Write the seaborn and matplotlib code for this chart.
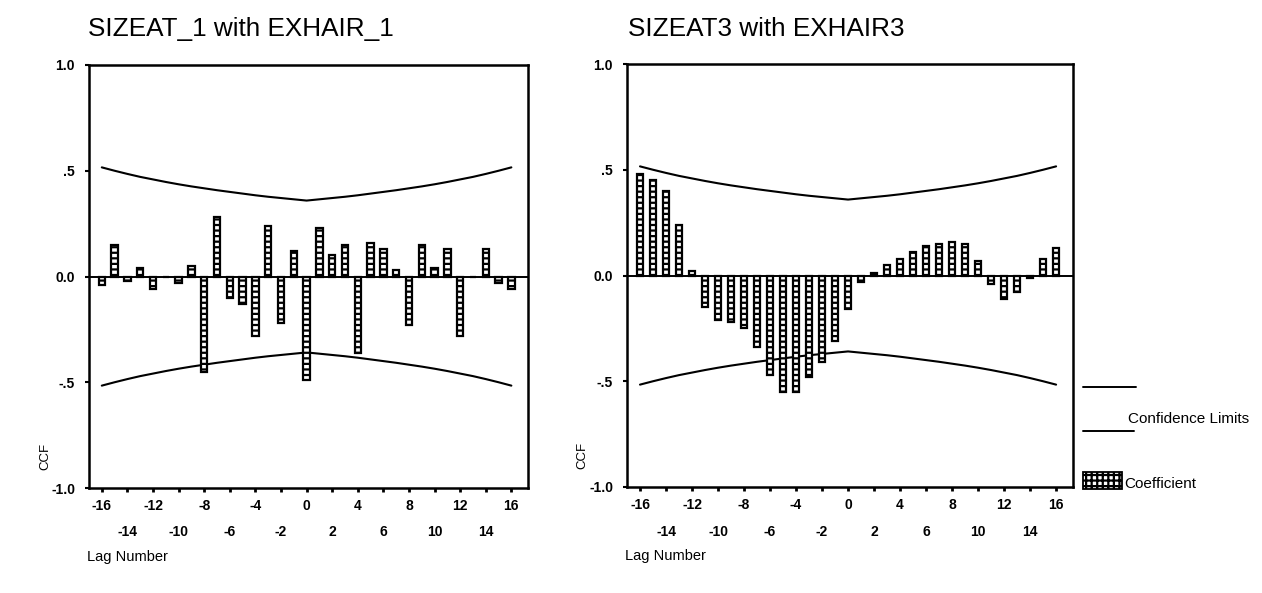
import matplotlib
matplotlib.use("Agg")
import matplotlib.pyplot as plt
import pandas as pd
import seaborn as sns
from matplotlib.lines import Line2D
from matplotlib.patches import Rectangle

# Cross-correlation coefficients by lag
lags = list(range(-16, 17))
ccf_sizeat1_exhair1 = [
    -0.04, 0.15, -0.02, 0.04, -0.06, 0.00, -0.03, 0.05, -0.45, 0.28, -0.10,
    -0.13, -0.28, 0.24, -0.22, 0.12, -0.49, 0.23, 0.10, 0.15, -0.36, 0.16,
    0.13, 0.03, -0.23, 0.15, 0.04, 0.13, -0.28, 0.00, 0.13, -0.03, -0.06,
]
ccf_sizeat3_exhair3 = [
    0.48, 0.45, 0.40, 0.24, 0.02, -0.15, -0.21, -0.22, -0.25, -0.34, -0.47,
    -0.55, -0.55, -0.48, -0.41, -0.31, -0.16, -0.03, 0.01, 0.05, 0.08, 0.11,
    0.14, 0.15, 0.16, 0.15, 0.07, -0.04, -0.11, -0.08, -0.01, 0.08, 0.13,
]
# Upper confidence limit per lag (lower limit is its negative)
conf_limit = [
    0.516, 0.500, 0.485, 0.471, 0.459, 0.447, 0.436, 0.426, 0.417, 0.408,
    0.400, 0.392, 0.384, 0.377, 0.371, 0.365, 0.359, 0.365, 0.371, 0.377,
    0.384, 0.392, 0.400, 0.408, 0.417, 0.426, 0.436, 0.447, 0.459, 0.471,
    0.485, 0.500, 0.516,
]
titles = ["SIZEAT_1 with EXHAIR_1", "SIZEAT3 with EXHAIR3"]
ytick_values = [1.0, 0.5, 0.0, -0.5, -1.0]
ytick_labels = ["1.0", ".5", "0.0", "-.5", "-1.0"]
xtick_row1 = [-16, -12, -8, -4, 0, 4, 8, 12, 16]
xtick_row2 = [-14, -10, -6, -2, 2, 6, 10, 14]

sns.set_theme(style="white")
plt.rcParams["font.family"] = ["Liberation Sans", "DejaVu Sans"]
plt.rcParams["text.color"] = "black"
plt.rcParams["hatch.linewidth"] = 1.6
plt.rcParams["hatch.color"] = "black"

W, H = 1262, 593
fig = plt.figure(figsize=(W / 100, H / 100), dpi=100)
fig.patch.set_facecolor("white")


def box(x0, y0, x1, y1):
    return [x0 / W, 1 - y1 / H, (x1 - x0) / W, (y1 - y0) / H]


ax1 = fig.add_axes(box(89, 65, 528, 488))
ax2 = fig.add_axes(box(627, 64, 1073, 487))

upper = conf_limit
lower = [-v for v in conf_limit]

for ax, values in [(ax1, ccf_sizeat1_exhair1), (ax2, ccf_sizeat3_exhair3)]:
    df = pd.DataFrame({"lag": lags, "ccf": values})
    sns.barplot(data=df, x="lag", y="ccf", native_scale=True, width=0.5,
                color="white", edgecolor="black", linewidth=1.6,
                hatch="---", errorbar=None, ax=ax, zorder=3)
    for p in ax.patches:
        p.set_facecolor("white")
    sns.lineplot(x=lags, y=upper, color="black", linewidth=1.5, ax=ax,
                 errorbar=None)
    sns.lineplot(x=lags, y=lower, color="black", linewidth=1.5, ax=ax,
                 errorbar=None)
    ax.axhline(0, color="black", linewidth=1.4, zorder=2)

    ax.set_xlim(-17, 17.3)
    ax.set_ylim(-1, 1)
    ax.set_xticks(xtick_row1)
    ax.set_xticklabels([str(v) for v in xtick_row1], fontweight="bold")
    ax.set_xticks(xtick_row2, minor=True)
    ax.set_xticklabels([str(v) for v in xtick_row2], minor=True,
                       fontweight="bold")
    ax.set_yticks(ytick_values)
    ax.set_yticklabels(ytick_labels, fontweight="bold")
    ax.tick_params(axis="x", which="major", direction="out", length=3,
                   width=2, pad=5, labelsize=10, colors="black",
                   bottom=True)
    ax.tick_params(axis="x", which="minor", direction="out", length=3,
                   width=2, pad=24, labelsize=10, colors="black",
                   bottom=True)
    ax.tick_params(axis="y", direction="out", length=3, width=1.5, pad=7,
                   labelsize=10, colors="black", left=True)
    ax.set_xlabel("")
    ax.set_ylabel("")
    for s in ax.spines.values():
        s.set_color("black")
        s.set_linewidth(1.8)
    ax.set_facecolor("white")

    ax.text(-0.1, 0.075, "CCF", rotation=90, transform=ax.transAxes,
            ha="center", va="center", fontsize=9.5, color="black")
    ax.text(-0.005, -0.164, "Lag Number", transform=ax.transAxes,
            ha="left", va="center", fontsize=10.5, color="black")

fig.text(88 / W, 1 - 29 / H, titles[0], ha="left", va="center",
         fontsize=18.8, color="black")
fig.text(628 / W, 1 - 29 / H, titles[1], ha="left", va="center",
         fontsize=18.8, color="black")

# Legend on the right
fig.add_artist(Line2D([1083 / W, 1136 / W], [1 - 387 / H, 1 - 387 / H],
                      color="black", linewidth=1.4))
fig.add_artist(Line2D([1083 / W, 1134 / W], [1 - 431 / H, 1 - 431 / H],
                      color="black", linewidth=1.4))
fig.text(1128 / W, 1 - 419 / H, "Confidence Limits", ha="left", va="center",
         fontsize=11, color="black")
fig.add_artist(Rectangle((1083 / W, 1 - 489 / H), 39 / W, 17 / H,
                         transform=fig.transFigure, facecolor="white",
                         edgecolor="black", linewidth=1.3, hatch="+++"))
fig.text(1124 / W, 1 - 484 / H, "Coefficient", ha="left", va="center",
         fontsize=11, color="black")

fig.savefig("out.png", dpi=100, facecolor="white")
